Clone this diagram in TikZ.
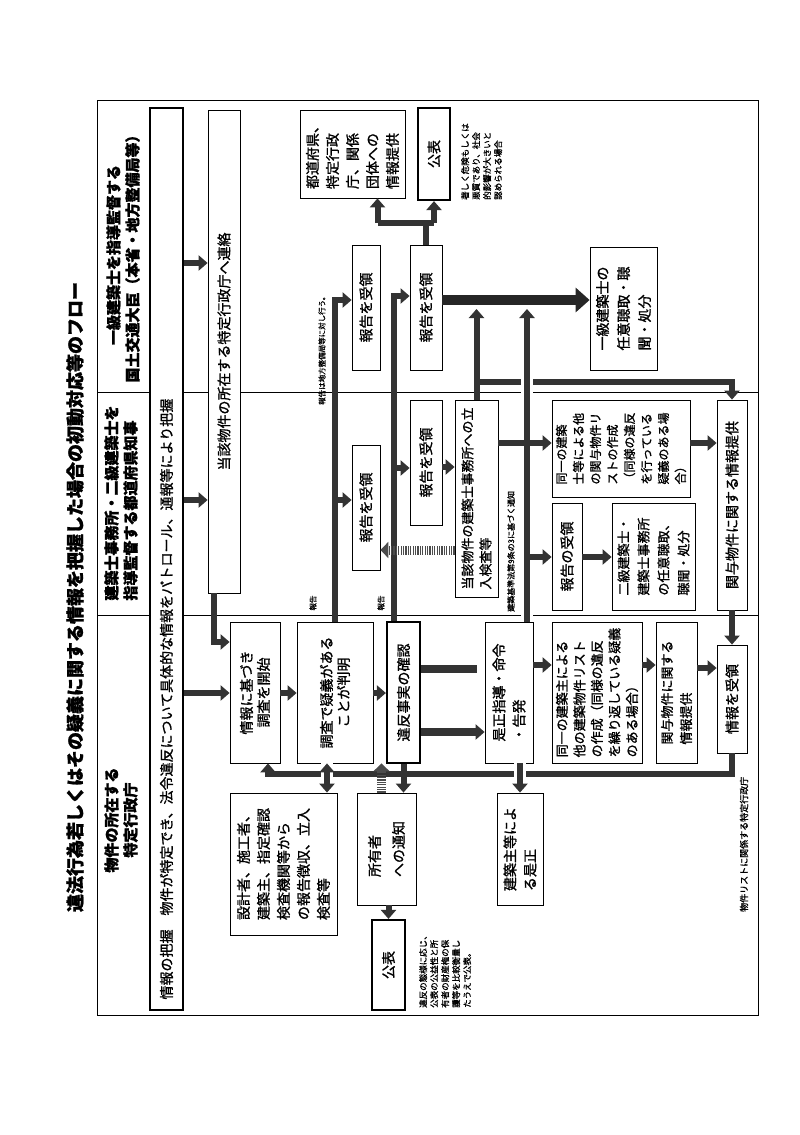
\documentclass[tikz,border=0pt]{standalone}
\usepackage{fontspec}
\setmainfont{Noto Sans CJK JP}[FakeBold=1.2]
\usetikzlibrary{arrows.meta}
\newcommand\bx[7][]{%
 \pgfmathsetmacro\cx{(#3+#5)/2}\pgfmathsetmacro\cy{-(#4+#6)/2}%
 \pgfmathsetmacro\ww{#6-#4}\pgfmathsetmacro\hh{#5-#3}%
 \node[box,#1,minimum width=\ww pt,minimum height=\hh pt] (#2) at (\cx,\cy) {#7};}
\begin{document}
\begin{tikzpicture}[x=1pt,y=1pt,
 box/.style={draw,fill=white,rotate=90,align=center,inner sep=1pt,line width=0.8pt,font=\fontsize{14}{17}\selectfont},
 thk/.style={line width=2.2pt},
 small/.style={rotate=90,align=left,inner sep=0pt,font=\fontsize{8.5}{11}\selectfont},
 fat/.style={line width=6pt,black!80,-{Triangle[width=15pt,length=9pt]}},
 fatl/.style={line width=6pt,black!80},
 big/.style={line width=10pt,black!85,-{Triangle[width=24pt,length=14pt]}},
 hatch/.style={line width=9pt,black!70,dash pattern=on 1.2pt off 1.2pt,-{Triangle[width=16pt,length=8pt]}},
 gap/.style={preaction={draw=white,line width=12pt,-}}]
\useasboundingbox (0,0) rectangle (800,-1135);
% title
\node[rotate=90,font=\bfseries\fontsize{18}{20}\selectfont] (title) at (75,-597) {違法行為若しくはその疑義に関する情報を把握した場合の初動対応等のフロー};
% frame and lanes
\draw[line width=0.8pt] (97,-100) rectangle (758,-1015);
\draw[line width=0.6pt] (97,-392) -- (758,-392);
\draw[line width=0.6pt] (97,-615) -- (758,-615);
\node[rotate=90,align=center,font=\bfseries\fontsize{15}{19}\selectfont] (h1) at (123,-255) {一級建築士を指導監督する\\国土交通大臣（本省・地方整備局等）};
\node[rotate=90,align=left,font=\bfseries\fontsize{15}{19}\selectfont] (h2) at (121,-503) {建築士事務所・二級建築士を\\指導監督する都道府県知事};
\node[rotate=90,align=center,font=\bfseries\fontsize{15}{19}\selectfont] (h3) at (121,-820) {物件の所在する\\特定行政庁};
% long box
\bx[thk]{long}{150}{108}{183}{1010}{}
\node[rotate=90,anchor=west,font=\fontsize{14}{16}\selectfont] (longt) at (166.5,-1003) {情報の把握\quad 物件が特定でき、法令違反について具体的な情報をパトロール、通報等により把握};
% boxes
\bx{touch}{208}{110}{240}{593}{当該物件の所在する特定行政庁へ連絡}
\bx{jouhou}{230}{622}{280}{763}{情報に基づき\\調査を開始}
\bx{chousa}{297}{622}{373}{763}{調査で疑義がある\\ことが判明}
\bx[thk]{ihan}{387}{622}{420}{763}{違反事実の確認}
\bx[align=left,font=\fontsize{14}{20}\selectfont]{sekkei}{230}{793}{337}{935}{設計者、施工者、\\建築主、指定確認\\検査機関等から\\の報告徴収、立入\\検査等}
\bx[align=left,font=\fontsize{14}{24}\selectfont]{shoyu}{357}{793}{416}{905}{所有者\\への通知}
\bx[thk]{kohyo1}{372}{920}{405}{1010}{公表}
\node[small,anchor=north west] (note1) at (419,-1008) {違反の態様に応じ、\\公表の公益性と所\\有者の財産権の保\\護等を比較衡量し\\たうえで公表。};
\bx{hokokuA1}{352}{245}{380}{370}{報告を受領}
\bx{hokokuA2}{352}{445}{380}{570}{報告を受領}
\bx{hokokuB1}{410}{245}{442}{370}{報告を受領}
\bx{hokokuB2}{410}{400}{442}{525}{報告を受領}
\bx[align=left,font=\fontsize{14}{20}\selectfont]{todofuken}{300}{110}{405}{198}{都道府県、\\特定行政\\庁、関係\\団体への\\情報提供}
\bx[thk]{kohyo2}{418}{108}{450}{200}{公表}
\node[small,anchor=north west] (note2) at (461,-200) {著しく危険もしくは\\悪質であり、社会\\的影響が大きいと\\認められる場合};
\bx[align=left,font=\fontsize{14}{21}\selectfont]{ikkyu}{590}{247}{657}{370}{一級建築士の\\任意聴取・聴\\聞・処分}
\bx[align=left,font=\fontsize{13}{18}\selectfont]{tachiiri}{455}{400}{498}{597}{当該物件の建築士事務所への立\\入検査等}
\bx[align=left,font=\fontsize{12}{17}\selectfont]{doitsu1}{552}{400}{690}{497}{同一の建築\\士等による他\\の関与物件リ\\ストの作成\\（同様の違反\\を行っている\\疑義のある場\\合）}
\bx{hokoku3}{552}{503}{582}{610}{報告の受領}
\bx[align=left,font=\fontsize{13}{20}\selectfont]{nikyu}{612}{503}{695}{610}{二級建築士・\\建築士事務所\\の任意聴取、\\聴聞・処分}
\bx{kanyo1}{717}{400}{747}{610}{関与物件に関する情報提供}
\bx[align=left,font=\fontsize{14}{20}\selectfont]{zesei}{485}{622}{533}{763}{是正指導・命令\\・告発}
\bx[align=left,font=\fontsize{14}{20}\selectfont]{kenchiku}{497}{793}{543}{905}{建築主等によ\\る是正}
\bx[align=left,font=\fontsize{13}{17.5}\selectfont]{doitsu2}{552}{622}{642}{763}{同一の建築主による\\他の建築物件リスト\\の作成（同様の違反\\を繰り返している疑義\\のある場合）}
\bx[align=left,font=\fontsize{13}{19}\selectfont]{kanyo2}{656}{622}{697}{763}{関与物件に関する\\情報提供}
\bx{joho}{717}{645}{747}{753}{情報を受領}
% labels
\node[small,anchor=west,font=\fontsize{9}{10}\selectfont] (lab3) at (744,-912) {物件リストに関係する特定行政庁};
\node[small,anchor=west,font=\fontsize{8}{10}\selectfont] (lab9) at (511,-612) {建築基準法第9条の3に基づく通知};
\node[small,anchor=west,font=\fontsize{7.5}{9}\selectfont] (labchiho) at (322,-405) {報告は地方整備局等に対し行う。};
\node[small,font=\fontsize{7.5}{9}\selectfont] (rep1) at (313,-603) {報告};
\node[small,font=\fontsize{7.5}{9}\selectfont] (rep2) at (381,-603) {報告};
% arrows
\draw[fat] (long.south|-0,-263) -- (touch.north|-0,-263);
\draw[fat] (long.south|-0,-500) -- (touch.north|-0,-500);
\draw[fat] ([xshift=-10pt]touch.west) |- (jouhou.north|-0,-642);
\draw[fat] (long.south|-0,-693) -- (jouhou.north|-0,-693);
\draw[fat] (jouhou.south|-0,-693) -- (chousa.north|-0,-693);
\draw[fat] (chousa.south|-0,-693) -- (ihan.north|-0,-693);
\draw[fatl,line width=8pt] (ihan.south|-0,-669) -- ([xshift=-8pt]zesei.north|-0,-669);
\draw[fat,line width=8pt] (ihan.south|-0,-732) -- (zesei.north|-0,-732);
\draw[fat] (ihan.west) -- (ihan.west|-shoyu.east);
\draw[fat] (kohyo1.east|-shoyu.west) -- (kohyo1.east);
% return loop
\draw[fat] (joho.west) -- (joho.west|-0,-774) -| ([xshift=13pt]jouhou.west);
\draw[fat,{Triangle[width=15pt,length=9pt]}-{Triangle[width=15pt,length=9pt]},gap] ([xshift=-8pt]chousa.west) -- ([xshift=-8pt]chousa.west|-sekkei.east);
\draw[hatch] ([xshift=-5pt]shoyu.east) -- ([xshift=-5pt]shoyu.east|-chousa.west);
\draw[fat,gap] (zesei.west-|kenchiku.east) -- (kenchiku.east);
\draw[fat] (zesei.south|-0,-665) -- (doitsu2.north|-0,-665);
\draw[fat] (doitsu2.south|-0,-665) -- (kanyo2.north|-0,-665);
\draw[fat] (kanyo2.south|-0,-668) -- (joho.north|-0,-668);
% report lines
\draw[fat] (chousa.east) |- (hokokuA1.north|-0,-300);
\draw[fat] (chousa.east|-0,-500) -- (hokokuA2.north|-0,-500);
\draw[fat] ([xshift=-10pt]ihan.east) |- (hokokuB1.north|-0,-296);
\draw[fat] ([xshift=-10pt]ihan.east|-0,-468) -- (hokokuB2.north|-0,-468);
\draw[hatch] (tachiiri.north|-0,-550) -- (hokokuA2.south|-0,-550);
% top
\draw[fatl] (hokokuB1.east) -- (hokokuB1.east|-0,-223);
\draw[fatl] ([xshift=25pt]todofuken.west|-0,-223) -- (kohyo2.west|-0,-223);
\draw[fat] ([xshift=25pt]todofuken.west|-0,-223) -- ([xshift=25pt]todofuken.west);
\draw[fat] (kohyo2.west|-0,-223) -- (kohyo2.west);
\draw[big] (hokokuB1.south|-0,-300) -- (ikkyu.north|-0,-300);
% middle right
\draw[fat] (hokokuB2.south|-0,-467) -- (tachiiri.north|-0,-467);
\draw[fat] (tachiiri.east|-0,-382) -- (kanyo1.east|-0,-382) -- (kanyo1.east);
\draw[fat] (tachiiri.east) -- (tachiiri.east|-0,-309);
\draw[fat,gap] ([xshift=18pt]zesei.east) -- ([xshift=18pt]zesei.east|-0,-309);
\draw[fat] ([xshift=18pt]zesei.east|-0,-557) -- (hokoku3.north|-0,-557);
\draw[fat] (tachiiri.south|-0,-443) -- (doitsu1.north|-0,-443);
\draw[fat] (doitsu1.south|-0,-443) -- (kanyo1.north|-0,-443);
\draw[fat] (hokoku3.south|-0,-557) -- (nikyu.north|-0,-557);
\draw[fat] (kanyo1.west) -- (joho.east);
\end{tikzpicture}
\end{document}
